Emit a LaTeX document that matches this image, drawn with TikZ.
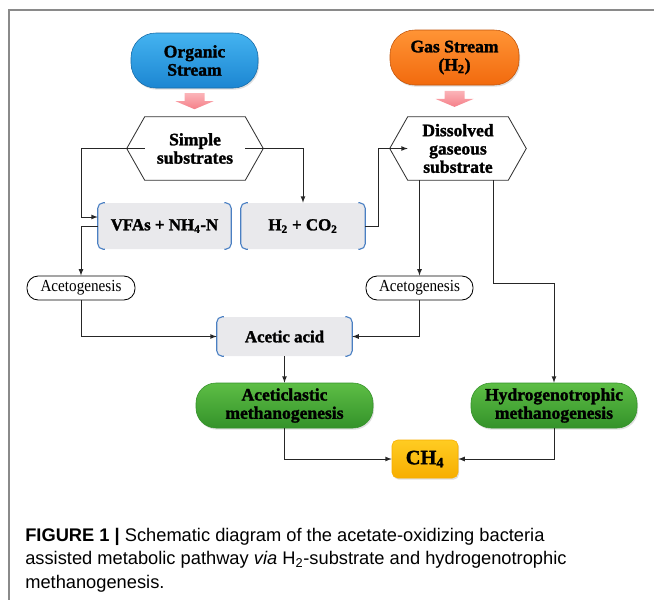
\documentclass[tikz,border=0pt]{standalone}
\usepackage{fontspec}
\setmainfont{Liberation Serif}
\setsansfont{Liberation Sans}
\newfontfamily\boxfont{Liberation Serif Bold}[FakeBold=1.6]
\newfontfamily\thinfont{Liberation Serif}[FakeStretch=0.9]
\usetikzlibrary{positioning, shadows}

\definecolor{orgtop}{HTML}{44B3F0}
\definecolor{orgbot}{HTML}{1C86D2}
\definecolor{gastop}{HTML}{FF9435}
\definecolor{gasbot}{HTML}{F26A0E}
\definecolor{greentop}{HTML}{5DBE45}
\definecolor{greenbot}{HTML}{34922A}
\definecolor{goldtop}{HTML}{FFCC22}
\definecolor{goldbot}{HTML}{F7AE00}
\definecolor{boxgray}{HTML}{E9E9EC}
\definecolor{brkblue}{HTML}{4A7FC2}
\definecolor{pinktop}{HTML}{FBB4B8}
\definecolor{pinkbot}{HTML}{F57F89}
\definecolor{framegray}{HTML}{8A8A8A}

\def\px{0.025cm} % one pixel of the 654x600 grid

% hexagon round a node (points left and right)
\newcommand{\hexframe}[1]{%
  \draw[hexline] (#1.north west) -- (#1.north east) -- ([xshift=18*\px]#1.east)
    -- (#1.south east) -- (#1.south west) -- ([xshift=-18*\px]#1.west) -- cycle;}

% blue brackets on both sides of a grey box
\newcommand{\sidebrackets}[1]{%
  \draw[brk] ([xshift=5pt]#1.north west) -- (#1.north west) -- (#1.south west) -- ([xshift=5pt]#1.south west);
  \draw[brk] ([xshift=-5pt]#1.north east) -- (#1.north east) -- (#1.south east) -- ([xshift=-5pt]#1.south east);}

% pink block arrow, #1 = top middle
\newcommand{\pinkarrow}[1]{%
  \shade[top color=pinktop, bottom color=pinkbot] (#1) ++(-10,0) -- ++(20,0) -- ++(0,8) -- ++(9,0)
    -- ++(-19,8) -- ++(-19,-8) -- ++(9,0) -- cycle;}

\begin{document}
\begin{tikzpicture}[x=0.025cm, y=-0.025cm, >=latex]
% --- Global Styles ---
\tikzstyle{pill} = [rounded corners=0.62cm, inner sep=0pt, align=center,
  font=\boxfont\fontsize{12.5}{13}\selectfont,
  drop shadow={opacity=0.25, shadow xshift=0.8pt, shadow yshift=-1.2pt}]
\tikzstyle{hexa} = [inner sep=0pt, align=center, minimum width=100*\px, minimum height=63*\px,
  font=\boxfont\fontsize{12.5}{13}\selectfont]
\tikzstyle{hexline} = [draw=black!80, line width=0.6pt]
\tikzstyle{gbox} = [fill=boxgray, rounded corners=5pt, inner sep=0pt, minimum height=46*\px,
  font=\boxfont\fontsize{12}{13}\selectfont]
\tikzstyle{brk} = [draw=brkblue, line width=0.8pt, rounded corners=4pt]
\tikzstyle{acet} = [draw=black, line width=0.6pt, fill=white, rounded corners=8pt,
  minimum height=24*\px, inner sep=0pt, font=\thinfont\fontsize{12}{12}\selectfont]
\tikzstyle{link} = [->, draw=black!85, line width=0.6pt]

\useasboundingbox (0,0) rectangle (654,600);
\draw[framegray, line width=1.1pt] (654,10) -- (9,10) -- (9,600);

% ==========================================
% TOP: input streams
% ==========================================
\node[pill, top color=orgtop, bottom color=orgbot, draw=orgbot!80!black, line width=0.4pt,
  minimum width=127*\px, minimum height=55*\px] (org) at (194.5,60.5) {Organic\\Stream};
\node[pill, top color=gastop, bottom color=gasbot, draw=gasbot!80!black, line width=0.4pt,
  minimum width=129*\px, minimum height=55*\px] (gas) at (454.5,57.5) {Gas Stream\\(H\textsubscript{2})};

\pinkarrow{[yshift=-3.5pt]org.south}
\pinkarrow{[yshift=-4pt]gas.south}

% Hexagons
\node[hexa] (simp) at (195,148.5) {Simple\\substrates};
\hexframe{simp}
\node[hexa] (dis) at (458,148.5) {Dissolved\\gaseous\\substrate};
\hexframe{dis}

% ==========================================
% MIDDLE: grey boxes and acetogenesis
% ==========================================
\node[gbox, minimum width=133*\px] (vfa) at (164.5,226) {VFAs + NH\textsubscript{4}-N};
\sidebrackets{vfa}
\node[gbox, minimum width=124*\px] (h2) at (303,226) {H\textsubscript{2} + CO\textsubscript{2}};
\sidebrackets{h2}

\node[acet, minimum width=108*\px] (acl) at (81,288) {Acetogenesis};
\node[acet, minimum width=107*\px] (acr) at (419.5,288) {Acetogenesis};

\node[gbox, minimum width=135*\px, minimum height=39*\px] (ac) at (284.5,336.5) {Acetic acid};
\sidebrackets{ac}

% ==========================================
% BOTTOM: methanogenesis and methane
% ==========================================
\node[pill, rounded corners=0.5cm, top color=greentop, bottom color=greenbot, draw=greenbot,
  minimum width=177*\px, minimum height=45*\px] (acm) at (284.5,405.5) {Aceticlastic\\methanogenesis};
\node[pill, rounded corners=0.5cm, top color=greentop, bottom color=greenbot, draw=greenbot,
  minimum width=166*\px, minimum height=45*\px] (hyd) at (554,405.5) {Hydrogenotrophic\\methanogenesis};
\node[pill, rounded corners=4pt, top color=goldtop, bottom color=goldbot, draw=goldbot,
  minimum width=66*\px, minimum height=38*\px, font=\boxfont\fontsize{14.5}{15}\selectfont] (ch4) at (425,459) {CH\textsubscript{4}};

% Connectors
\coordinate (vfain) at ([yshift=6.4pt]vfa.west);
\draw[link] (simp.west) -| (vfain -| acl.north) -- (vfain);
\draw[link] (vfa.west) -| (acl.north);
\draw[link] (simp.east) -| (h2.north);
\draw[link] (h2.east) -- ++(13,0) |- (dis.west);
\draw[link] (dis.south -| acr.north) -- (acr.north);
\draw[link] ([xshift=35*\px]dis.south) -- ++(0,103) -| (hyd.north);
\draw[link] (acl.south) |- (ac.west);
\draw[link] (acr.south) |- (ac.east);
\draw[link] (ac.south) -- (acm.north);
\draw[link] (acm.south) |- (ch4.west);
\draw[link] (hyd.south) |- (ch4.east);

% Caption (base = last line)
\node[anchor=base west, inner sep=0pt, align=left, font=\sffamily\fontsize{13}{16.7}\selectfont] (cap) at (25,588)
  {\textbf{FIGURE 1 |} Schematic diagram of the acetate-oxidizing bacteria\\
   assisted metabolic pathway \textit{via} H\textsubscript{2}-substrate and hydrogenotrophic\\
   methanogenesis.};
\end{tikzpicture}
\end{document}
